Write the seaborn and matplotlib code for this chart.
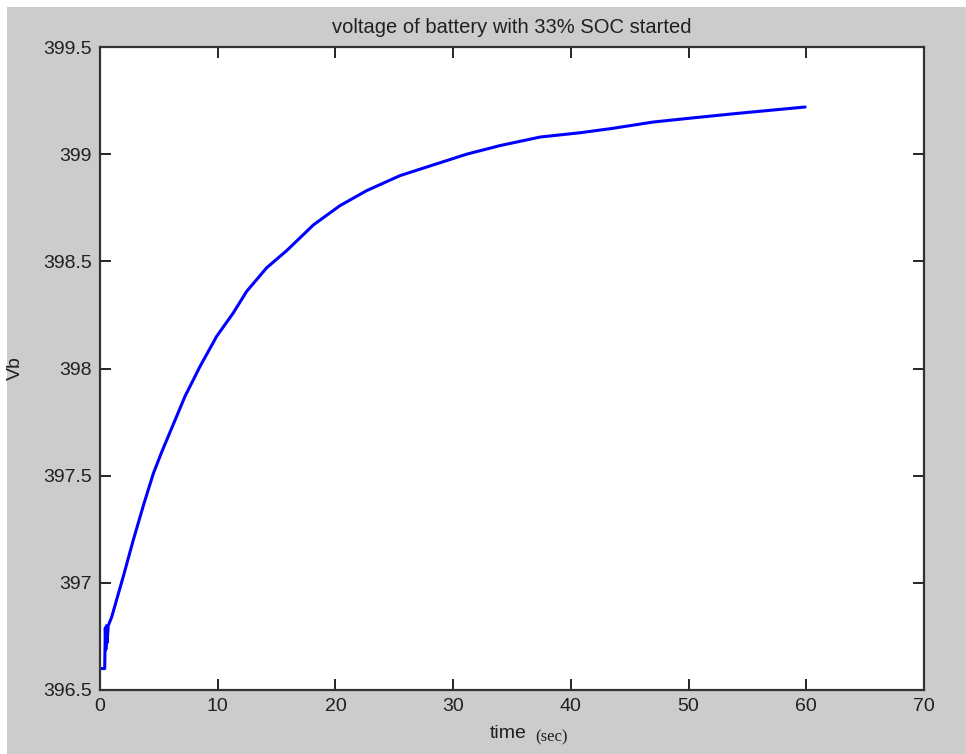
import matplotlib
matplotlib.use("Agg")
import matplotlib.pyplot as plt
from matplotlib.patches import Rectangle
from matplotlib.ticker import FuncFormatter
import seaborn as sns
import pandas as pd

# Battery terminal voltage over time (s -> V)
time_s = [0.0, 0.40, 0.45, 0.50, 0.55, 0.60, 0.70, 0.99, 1.98, 2.83, 3.68,
          4.53, 5.24, 6.23, 7.22, 8.50, 9.91, 11.33, 12.46, 14.16, 15.86,
          18.13, 20.39, 22.66, 25.49, 28.32, 31.15, 33.98, 37.4, 40.8, 43.5,
          47.0, 50.5, 54.1, 59.9]
voltage = [396.60, 396.60, 396.79, 396.69, 396.80, 396.72, 396.80, 396.84,
           397.03, 397.20, 397.36, 397.51, 397.61, 397.74, 397.87, 398.01,
           398.15, 398.26, 398.36, 398.47, 398.55, 398.67, 398.76, 398.83,
           398.90, 398.95, 399.00, 399.04, 399.08, 399.10, 399.12, 399.15,
           399.17, 399.19, 399.22]

x_ticks = [0, 10, 20, 30, 40, 50, 60, 70]
y_ticks = [396.5, 397, 397.5, 398, 398.5, 399, 399.5]

title_text = "voltage of battery with 33% SOC started"
ylabel_text = "Vb"

sns.set_style("ticks")
plt.rcParams["font.family"] = ["Liberation Sans", "DejaVu Sans"]

W, H = 966, 754
fig = plt.figure(figsize=(W / 100, H / 100), dpi=100, facecolor="white")
# grey window background with a thin white margin at top and left
fig.patches.append(Rectangle((7 / W, 0), 1, 1 - 7 / H, transform=fig.transFigure,
                             facecolor="#cccccc", edgecolor="none", zorder=-10))

ax = fig.add_axes([100 / W, 1 - 690 / H, 824 / W, 643 / H])
ax.set_facecolor("white")

df = pd.DataFrame({"time": time_s, "Vb": voltage})
sns.lineplot(data=df, x="time", y="Vb", ax=ax, color="#0000ff", linewidth=2.2,
             estimator=None, sort=False)

ax.set_xlim(0, 70)
ax.set_ylim(396.5, 399.5)
ax.set_xticks(x_ticks)
ax.set_yticks(y_ticks)
ax.yaxis.set_major_formatter(FuncFormatter(lambda v, p: f"{v:g}"))
ax.tick_params(direction="in", length=8, width=1.2, color="black",
               top=True, right=True, labelsize=14, labelcolor="#202020", pad=6)

for s in ax.spines.values():
    s.set_visible(True)
    s.set_color("#333333")
    s.set_linewidth(1.6)

ax.set_title(title_text, fontsize=14.5, color="#202020", pad=10)
ax.set_xlabel("")
ax.set_ylabel(ylabel_text, fontsize=14, color="#202020", va="center")
ax.yaxis.set_label_coords(-85 / 824, 0.5)

# x-axis caption: sans-serif word followed by a serif unit
ax.text(0.518, -0.068, "time", transform=ax.transAxes, ha="right", va="center",
        fontsize=14, color="#202020")
ax.text(0.528, -0.074, "(sec)", transform=ax.transAxes, ha="left", va="center",
        fontsize=12, color="#202020", family=["Liberation Serif", "DejaVu Serif"])

fig.savefig("out.png", dpi=100, facecolor=fig.get_facecolor())
